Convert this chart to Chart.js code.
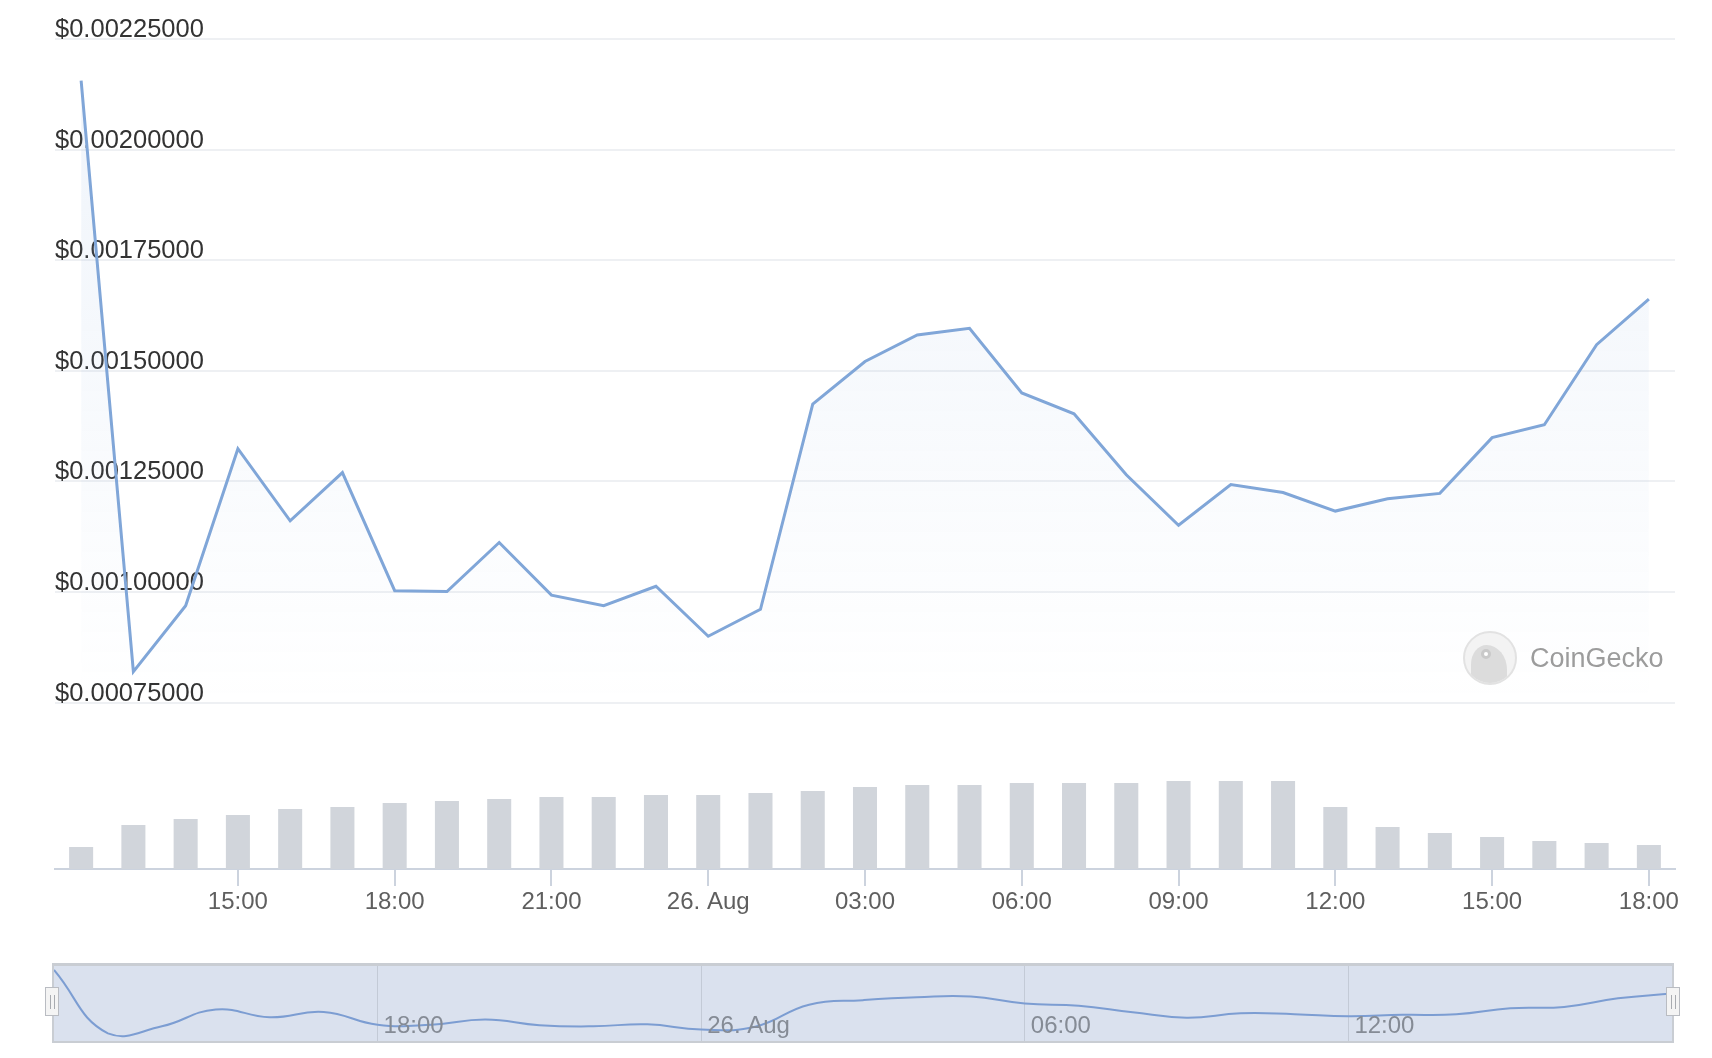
<!DOCTYPE html>
<html>
<head>
<meta charset="utf-8">
<script src="https://cdn.jsdelivr.net/npm/chart.js@4.4.1/dist/chart.umd.min.js"></script>
<style>
  body { margin: 0; background: #fff; width: 1712px; height: 1058px; overflow: hidden; font-family: "Liberation Sans", Arial, Helvetica, sans-serif; }
  #main { position: absolute; left: 0; top: 0; width: 1712px; height: 940px; }
  #nav { position: absolute; left: 52px; top: 963px; width: 1622px; height: 80px; box-sizing: border-box; border: 2px solid #c9cdd3; border-top-width: 3px; background: #dae1ee; }
  .handle { position: absolute; top: 987px; width: 14px; height: 29px; background: #f4f4f4; border: 1px solid #b9bcc2; box-sizing: border-box; }
  .handle::before, .handle::after { content: ''; position: absolute; top: 7px; width: 1px; height: 14px; background: #a8abb0; }
  .handle::before { left: 4px; }
  .handle::after { left: 8px; }
  #watermark { position: absolute; left: 1463px; top: 631px; height: 54px; display: flex; align-items: center; color: #9c9c9c; font-size: 27px; }
  #watermark .logo { width: 50px; height: 50px; border-radius: 50%; border: 2px solid #e2e2e2; background: #f3f3f3; position: relative; overflow: hidden; margin-right: 13px; }
  #watermark .head { position: absolute; left: 6px; top: 12px; width: 36px; height: 44px; border-radius: 50% 65% 20% 20%; background: #dcdcdc; }
  #watermark .eye { position: absolute; left: 16px; top: 16px; width: 10px; height: 10px; border-radius: 50%; background: #fff; border: 3px solid #c9c9c9; box-sizing: border-box; }
</style>
</head>
<body>
<div id="main"><canvas id="chart-main"></canvas></div>
<div id="watermark"><div class="logo"><div class="head"></div><div class="eye"></div></div><span>CoinGecko</span></div>
<div id="nav"><canvas id="chart-nav"></canvas></div>
<div class="handle" style="left:45px"></div>
<div class="handle" style="left:1666px"></div>
<script>
// Hourly candles: 25 Aug 12:00 -> 26 Aug 18:00
const timeLabels = [
  '12:00', '13:00', '14:00', '15:00', '16:00', '17:00', '18:00', '19:00', '20:00', '21:00', '22:00', '23:00',
  '26. Aug', '01:00', '02:00', '03:00', '04:00', '05:00', '06:00', '07:00', '08:00', '09:00', '10:00', '11:00',
  '12:00', '13:00', '14:00', '15:00', '16:00', '17:00', '18:00'
];

// Price in USD
const prices = [
  0.002156, 0.000820, 0.000969, 0.001324, 0.001161, 0.001270, 0.001003, 0.001001,
  0.001112, 0.000993, 0.000969, 0.001013, 0.000900, 0.000961, 0.001425, 0.001521,
  0.001581, 0.001596, 0.001450, 0.001403, 0.001265, 0.001151, 0.001243, 0.001225,
  0.001183, 0.001211, 0.001223, 0.001349, 0.001378, 0.001559, 0.001662
];

// Volume (relative units)
const volumes = [
  2.2, 4.4, 5.0, 5.4, 6.0, 6.2, 6.6, 6.8, 7.0, 7.2, 7.2, 7.4, 7.4, 7.6, 7.8, 8.2,
  8.4, 8.4, 8.6, 8.6, 8.6, 8.8, 8.8, 8.8, 6.2, 4.2, 3.6, 3.2, 2.8, 2.6, 2.4
];

const priceTicks = [0.00075, 0.001, 0.00125, 0.0015, 0.00175, 0.002, 0.00225];
const fillBase = 0.00075;

// Navigator ticks (index into the hourly series)
const navTickIndex = [6, 12, 18, 24];
const navTickLabels = ['18:00', '26. Aug', '06:00', '12:00'];

const FONT = '"Liberation Sans", Arial, Helvetica, sans-serif';

const mainCtx = document.getElementById('chart-main');
new Chart(mainCtx, {
  data: {
    labels: timeLabels,
    datasets: [
      {
        type: 'line',
        label: 'Price',
        data: prices,
        yAxisID: 'y',
        borderColor: '#80a6d8',
        borderWidth: 3,
        pointRadius: 0,
        tension: 0,
        fill: { value: fillBase },
        backgroundColor: (ctx) => {
          const chart = ctx.chart;
          const area = chart.chartArea;
          if (!area) return 'rgba(124,165,218,0.08)';
          const bottom = chart.scales.y.getPixelForValue(fillBase);
          const g = chart.ctx.createLinearGradient(0, area.top, 0, bottom);
          g.addColorStop(0, 'rgba(124,165,218,0.13)');
          g.addColorStop(1, 'rgba(124,165,218,0.0)');
          return g;
        },
        order: 1
      },
      {
        type: 'bar',
        label: 'Volume',
        data: volumes,
        yAxisID: 'yv',
        backgroundColor: '#d1d5db',
        categoryPercentage: 1,
        barPercentage: 0.46,
        order: 2
      }
    ]
  },
  options: {
    responsive: true,
    maintainAspectRatio: false,
    animation: false,
    layout: { padding: { left: 55, right: 37, top: 39, bottom: 11 } },
    plugins: { legend: { display: false }, tooltip: { enabled: false } },
    scales: {
      x: {
        type: 'category',
        offset: true,
        grid: {
          drawOnChartArea: false,
          drawTicks: true,
          tickLength: 17,
          offset: false,
          lineWidth: 2,
          color: (ctx) => (ctx.index % 3 === 0 && ctx.index > 0) ? '#ccd3de' : 'rgba(0,0,0,0)'
        },
        border: { display: true, color: '#ccd3de', width: 2 },
        ticks: {
          autoSkip: false,
          maxRotation: 0,
          padding: 2,
          color: '#5f5f5f',
          font: { family: FONT, size: 24 },
          callback: (v, i) => (i % 3 === 0 && i > 0) ? timeLabels[i] : ''
        },
        afterFit: (scale) => { scale.height = 60; }
      },
      y: {
        type: 'linear',
        position: 'left',
        min: 0.000374,
        max: 0.00225,
        afterBuildTicks: (scale) => { scale.ticks = priceTicks.map(v => ({ value: v })); },
        afterFit: (scale) => { scale.width = 0; },
        grid: { color: '#eef0f3', lineWidth: 2, drawTicks: false },
        border: { display: false },
        ticks: {
          mirror: true,
          padding: 0,
          labelOffset: -9,
          color: '#333333',
          font: { family: FONT, size: 25.5 },
          callback: (v) => '$' + Number(v).toFixed(8)
        }
      },
      yv: {
        type: 'linear',
        display: false,
        min: 0,
        max: 83
      }
    }
  }
});

// Navigator
const navLabelsPlugin = {
  id: 'navLabels',
  afterDatasetsDraw(chart) {
    const { ctx, chartArea } = chart;
    const xs = chart.scales.x;
    ctx.save();
    ctx.fillStyle = '#858b95';
    ctx.font = '24px ' + FONT;
    ctx.textBaseline = 'middle';
    ctx.textAlign = 'left';
    navTickIndex.forEach((v, i) => {
      ctx.fillText(navTickLabels[i], xs.getPixelForValue(v) + 6, chartArea.bottom - 15);
    });
    ctx.restore();
  }
};

const navCtx = document.getElementById('chart-nav');
new Chart(navCtx, {
  type: 'line',
  data: {
    datasets: [{
      data: prices.map((p, i) => ({ x: i, y: p })),
      borderColor: '#7c9dd2',
      borderWidth: 2,
      pointRadius: 0,
      tension: 0.45,
      fill: false
    }]
  },
  options: {
    responsive: true,
    maintainAspectRatio: false,
    animation: false,
    layout: { padding: 0 },
    plugins: { legend: { display: false }, tooltip: { enabled: false } },
    scales: {
      x: {
        type: 'linear',
        min: 0,
        max: timeLabels.length - 1,
        afterBuildTicks: (scale) => { scale.ticks = navTickIndex.map(v => ({ value: v })); },
        afterFit: (scale) => { scale.height = 0; },
        grid: { color: '#c3cad6', lineWidth: 1, drawTicks: false },
        border: { display: false },
        ticks: { display: false }
      },
      y: {
        type: 'linear',
        min: 0.00066,
        max: 0.00224,
        display: false
      }
    }
  },
  plugins: [navLabelsPlugin]
});
</script>
</body>
</html>
